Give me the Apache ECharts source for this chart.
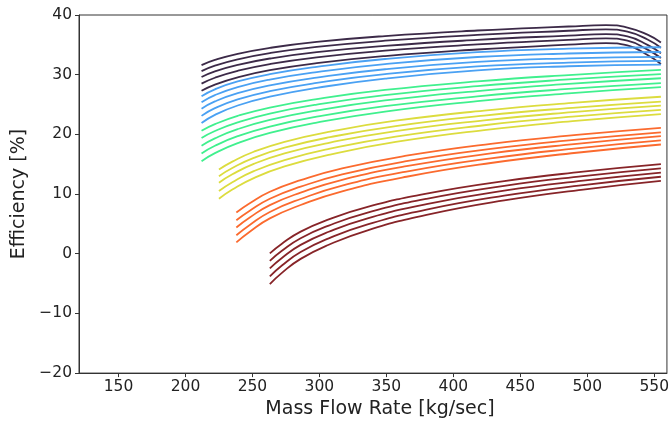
<!DOCTYPE html>
<html>
<head>
<meta charset="utf-8">
<script src="https://cdn.jsdelivr.net/npm/echarts@6/dist/echarts.min.js"></script>
<style>
  html, body { margin: 0; padding: 0; background: #fff; }
  #chart { width: 672px; height: 424px; }
</style>
</head>
<body>
<div id="chart"></div>
<script>
// mass flow rate samples for each group of curves
const xDark = [212, 222, 239, 263, 298, 349, 418, 486, 514, 530, 545, 555]
const xBlue = [212, 222, 239, 263, 298, 349, 418, 486, 555]
const xGreen = [212, 222, 239, 263, 298, 349, 418, 486, 555]
const xYellow = [225, 235, 251, 274, 308, 357, 423, 489, 555]
const xOrange = [238, 248, 263, 286, 317, 365, 428, 492, 555]
const xRed = [263, 272, 286, 307, 336, 380, 438, 497, 555]

// efficiency [%] values, five curves per group
const darkY = [
  [31.6, 32.47, 33.5, 34.49, 35.49, 36.47, 37.4, 38.07, 38.3, 37.9, 36.7, 35.4],
  [30.6, 31.51, 32.58, 33.62, 34.66, 35.69, 36.66, 37.36, 37.6, 37.2, 35.9, 34.5],
  [29.6, 30.54, 31.64, 32.71, 33.78, 34.83, 35.83, 36.55, 36.8, 36.4, 35.0, 33.6],
  [28.5, 29.49, 30.65, 31.78, 32.91, 34.03, 35.07, 35.83, 36.1, 35.7, 34.2, 32.8],
  [27.3, 28.34, 29.56, 30.76, 31.94, 33.12, 34.22, 35.02, 35.3, 34.9, 33.3, 31.8]
]
const blueY = [
  [26.4, 27.55, 28.86, 30.09, 31.32, 32.63, 33.78, 34.35, 34.6],
  [25.4, 26.58, 27.92, 29.18, 30.44, 31.78, 32.96, 33.55, 33.8],
  [24.3, 25.52, 26.91, 28.22, 29.52, 30.91, 32.13, 32.74, 33.0],
  [23.1, 24.39, 25.86, 27.24, 28.62, 30.09, 31.38, 32.02, 32.3],
  [21.9, 23.27, 24.84, 26.31, 27.78, 29.35, 30.72, 31.41, 31.7]
]
const greenY = [
  [20.6, 21.71, 23.10, 24.50, 25.92, 27.44, 28.87, 29.94, 30.8],
  [19.4, 20.57, 22.02, 23.49, 24.99, 26.58, 28.08, 29.20, 30.1],
  [18.1, 19.33, 20.87, 22.42, 24.0, 25.68, 27.26, 28.45, 29.4],
  [16.8, 18.09, 19.69, 21.31, 22.96, 24.72, 26.37, 27.61, 28.6],
  [15.5, 16.85, 18.54, 20.24, 21.97, 23.82, 25.56, 26.86, 27.9]
]
const yellowY = [
  [14.1, 15.43, 17.09, 18.76, 20.47, 22.29, 23.99, 25.28, 26.3],
  [13.0, 14.36, 16.06, 17.78, 19.53, 21.39, 23.14, 24.45, 25.5],
  [11.9, 13.31, 15.06, 16.83, 18.63, 20.56, 22.36, 23.72, 24.8],
  [10.5, 11.98, 13.83, 15.70, 17.60, 19.63, 21.53, 22.96, 24.1],
  [9.2, 10.75, 12.68, 14.62, 16.61, 18.73, 20.72, 22.21, 23.4]
]
const orangeY = [
  [6.9, 8.45, 10.38, 12.32, 14.31, 16.43, 18.42, 19.91, 21.1],
  [5.6, 7.21, 9.21, 11.23, 13.30, 15.50, 17.56, 19.11, 20.35],
  [4.4, 6.07, 8.15, 10.24, 12.39, 14.67, 16.81, 18.41, 19.7],
  [3.1, 4.83, 7.0, 9.17, 11.40, 13.77, 15.99, 17.66, 19.0],
  [1.9, 3.69, 5.92, 8.16, 10.46, 12.90, 15.20, 16.92, 18.3]
]
const redY = [
  [0.05, 1.68, 3.71, 5.76, 7.85, 10.08, 12.17, 13.74, 15.0],
  [-1.2, 0.49, 2.60, 4.72, 6.89, 9.20, 11.37, 13.0, 14.3],
  [-2.45, -0.70, 1.48, 3.68, 5.93, 8.32, 10.57, 12.25, 13.6],
  [-3.8, -1.98, 0.29, 2.58, 4.92, 7.41, 9.74, 11.50, 12.9],
  [-5.1, -3.21, -0.86, 1.51, 3.93, 6.51, 8.93, 10.75, 12.2]
]

const xTicks = [150, 200, 250, 300, 350, 400, 450, 500, 550]

const groups = [
  { x: xDark, ys: darkY, color: '#3c2a48' },
  { x: xBlue, ys: blueY, color: '#4aa1f3' },
  { x: xGreen, ys: greenY, color: '#40f08e' },
  { x: xYellow, ys: yellowY, color: '#dcdc3e' },
  { x: xOrange, ys: orangeY, color: '#fb6a2e' },
  { x: xRed, ys: redY, color: '#872428' }
]

const font = 'DejaVu Sans'
const minus = v => String(v).replace('-', '\u2212')

const series = []
groups.forEach(g => {
  g.ys.forEach(ys => {
    series.push({
      type: 'line',
      data: g.x.map((x, i) => [x, ys[i]]),
      smooth: true,
      symbol: 'none',
      lineStyle: { color: g.color, width: 1.8 },
      silent: true
    })
  })
})

const chart = echarts.init(document.getElementById('chart'))
chart.setOption({
  animation: false,
  grid: { left: 79, right: 5, top: 15, bottom: 50, show: true, borderColor: '#333', borderWidth: 1 },
  xAxis: {
    type: 'value', min: 120.5, max: 559.5,
    name: 'Mass Flow Rate [kg/sec]', nameLocation: 'middle', nameGap: 25,
    nameTextStyle: { fontFamily: font, fontSize: 19, color: '#222', padding: [0, 0, 0, 14] },
    axisLine: { onZero: false, lineStyle: { color: '#333' } },
    axisTick: { length: 4, lineStyle: { color: '#333' }, customValues: xTicks },
    axisLabel: { fontFamily: font, fontSize: 15.5, color: '#222', margin: 6, customValues: xTicks },
    splitLine: { show: false }
  },
  yAxis: {
    type: 'value', min: -20, max: 40, interval: 10,
    name: 'Efficiency [%]', nameLocation: 'middle', nameGap: 44,
    nameTextStyle: { fontFamily: font, fontSize: 19, color: '#222' },
    axisLine: { show: true, onZero: false, lineStyle: { color: '#333' } },
    axisTick: { show: true, length: 4, lineStyle: { color: '#333' } },
    axisLabel: { fontFamily: font, fontSize: 15.5, color: '#222', margin: 7, formatter: minus },
    splitLine: { show: false }
  },
  series
})
</script>
</body>
</html>
